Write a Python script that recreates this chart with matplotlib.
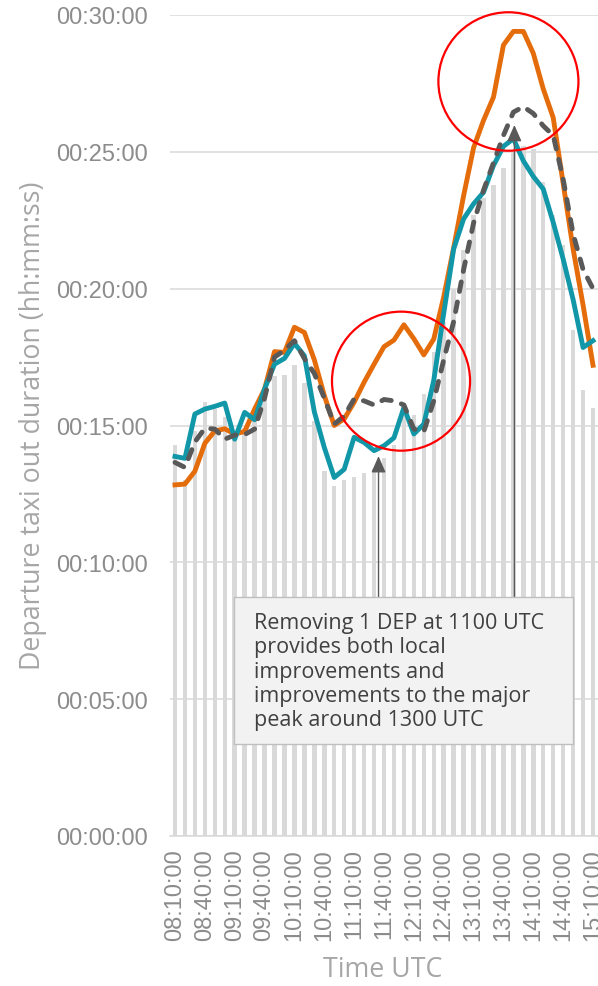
import matplotlib
matplotlib.use('Agg')
import matplotlib.pyplot as plt
from matplotlib.patches import Ellipse, Rectangle
from matplotlib.ticker import FuncFormatter, FixedLocator

# ---------------- data (minutes of taxi-out duration) ----------------
times = ['08:10:00', '08:20:00', '08:30:00', '08:40:00', '08:50:00', '09:00:00', '09:10:00',
         '09:20:00', '09:30:00', '09:40:00', '09:50:00', '10:00:00', '10:10:00', '10:20:00',
         '10:30:00', '10:40:00', '10:50:00', '11:00:00', '11:10:00', '11:20:00', '11:30:00',
         '11:40:00', '11:50:00', '12:00:00', '12:10:00', '12:20:00', '12:30:00', '12:40:00',
         '12:50:00', '13:00:00', '13:10:00', '13:20:00', '13:30:00', '13:40:00', '13:50:00',
         '14:00:00', '14:10:00', '14:20:00', '14:30:00', '14:40:00', '14:50:00', '15:00:00',
         '15:10:00']

bars_min = [14.3, 13.0, 14.8, 15.85, 15.6, 15.3, 14.8, 14.9, 15.3, 16.0, 16.8, 16.85, 17.2,
            16.55, 15.15, 13.35, 12.8, 13.0, 13.13, 13.26, 13.4, 13.8, 14.3, 15.7, 15.4, 16.15,
            17.7, 18.8, 20.0, 21.4, 22.7, 23.3, 23.8, 24.4, 25.0, 25.2, 25.1, 23.9, 22.7, 21.6,
            18.5, 16.3, 15.65]

orange_min = [12.83, 12.86, 13.33, 14.35, 14.8, 14.88, 14.69, 14.78, 15.6, 16.33, 17.7, 17.67,
              18.59, 18.4, 17.4, 16.1, 15.0, 15.24, 15.85, 16.58, 17.24, 17.88, 18.12, 18.68,
              18.17, 17.58, 18.16, 19.7, 21.5, 23.4, 25.15, 26.15, 27.0, 28.9, 29.4, 29.4, 28.6,
              27.3, 26.25, 23.85, 21.45, 19.4, 17.2]

teal_min = [13.87, 13.8, 15.42, 15.6, 15.7, 15.82, 14.5, 15.48, 15.21, 16.33, 17.24, 17.45,
            18.0, 17.55, 15.5, 14.2, 13.1, 13.4, 14.57, 14.38, 14.08, 14.26, 14.55, 15.66,
            14.69, 15.05, 16.65, 19.1, 21.45, 22.55, 23.1, 23.52, 24.5, 25.2, 25.48, 24.67,
            24.1, 23.64, 22.42, 21.08, 19.6, 17.85, 18.1]

dashed_min = [13.65, 13.47, 14.4, 14.9, 14.87, 14.5, 14.65, 14.67, 14.87, 16.0, 17.5, 17.75,
              18.1, 17.45, 16.9, 16.0, 15.05, 15.35, 15.97, 15.9, 15.75, 15.95, 15.9, 15.75,
              14.87, 14.78, 15.9, 17.4, 18.8, 20.7, 22.4, 23.6, 24.6, 25.6, 26.45, 26.65, 26.4,
              25.95, 25.6, 24.0, 22.0, 20.7, 20.0]

xtick_labels = ['08:10:00', '08:40:00', '09:10:00', '09:40:00', '10:10:00', '10:40:00',
                '11:10:00', '11:40:00', '12:10:00', '12:40:00', '13:10:00', '13:40:00',
                '14:10:00', '14:40:00', '15:10:00']

ytick_minutes = [0, 5, 10, 15, 20, 25, 30]

note_text = ("Removing 1 DEP at 1100 UTC\nprovides both local\nimprovements and\n"
             "improvements to the major\npeak around 1300 UTC")

# ---------------- figure ----------------
W, H = 598, 987
fig = plt.figure(figsize=(W / 100, H / 100), dpi=100)
ax = fig.add_axes([170 / W, 150 / H, 428 / W, 821 / H])

x = list(range(len(times)))
ax.bar(x, bars_min, width=0.45, color='#D9D9D9', zorder=2)
ax.plot(x, orange_min, color='#E46C0A', lw=3.5, zorder=4)
ax.plot(x, teal_min, color='#1297A8', lw=3.5, zorder=5)
ax.plot(x, dashed_min, color='#595959', lw=3.5, ls=(0, (2.0, 2.2)),
        dash_capstyle='round', zorder=6)

ax.set_xlim(-0.5, len(times) - 0.5)
ax.set_ylim(0, 30)

tick_pos = [times.index(t) for t in xtick_labels]
ax.xaxis.set_major_locator(FixedLocator(tick_pos))
ax.set_xticklabels(xtick_labels, rotation=90, family='Liberation Sans', fontsize=17,
                   color='#8C8C8C')
ax.yaxis.set_major_locator(FixedLocator(ytick_minutes))


def fmt(v, pos):
    s = int(round(v * 60))
    return '%02d:%02d:%02d' % (s // 3600, (s % 3600) // 60, s % 60)


ax.yaxis.set_major_formatter(FuncFormatter(fmt))
for lab in ax.get_yticklabels():
    lab.set_family('Liberation Sans')
    lab.set_fontsize(17)
    lab.set_color('#8C8C8C')
ax.tick_params(axis='both', length=0)
ax.tick_params(axis='y', pad=16)
ax.tick_params(axis='x', pad=9)

ax.yaxis.grid(True, color='#D9D9D9', lw=1.1, zorder=0)
ax.set_axisbelow(True)
for s in ['left', 'right', 'top']:
    ax.spines[s].set_visible(False)
ax.spines['bottom'].set_color('#D9D9D9')
ax.spines['bottom'].set_linewidth(1.1)

# axis titles
fig.text(33 / W, 1 - 426 / H, 'Departure taxi out duration (hh:mm:ss)', rotation=90,
         ha='center', va='center', family='Open Sans', fontsize=19.3, color='#A6A6A6')
fig.text(383 / W, 1 - 970 / H, 'Time UTC', ha='center', va='center', family='Open Sans',
         fontsize=19.3, color='#A6A6A6')

# red circles (highlights)
ax.add_patch(Ellipse((22.71, 16.62), 13.87, 5.08, fill=False, edgecolor='#FF0000', lw=1.6,
                     zorder=8, clip_on=False))
ax.add_patch(Ellipse((33.5, 27.57), 14.07, 5.06, fill=False, edgecolor='#FF0000', lw=1.6,
                     zorder=8, clip_on=False))

# annotation box
box_x0, box_x1 = (234 - 170) / 428, (573 - 170) / 428
box_y0, box_y1 = (837 - 745) / 821, (837 - 598) / 821
ax.add_patch(Rectangle((box_x0, box_y0), box_x1 - box_x0, box_y1 - box_y0,
                       transform=ax.transAxes, facecolor='#F2F2F2', edgecolor='#BFBFBF',
                       lw=1.0, zorder=9))
ax.text((254 - 170) / 428, (837 - 613) / 821, note_text, transform=ax.transAxes,
        ha='left', va='top', family='Open Sans', fontsize=15.5, color='#404040',
        linespacing=1.21, zorder=10)

box_top = (837 - 598) / 27.37
for ax_x, tip_y in [(20.45, 13.88), (34.1, 25.98)]:
    ax.annotate('', xy=(ax_x, tip_y), xytext=(ax_x, box_top),
                arrowprops=dict(arrowstyle='-|>,head_length=0.5,head_width=0.22',
                                mutation_scale=20, color='#595959', lw=1.0,
                                shrinkA=0, shrinkB=0),
                zorder=7)

fig.savefig('out.png', dpi=100)
